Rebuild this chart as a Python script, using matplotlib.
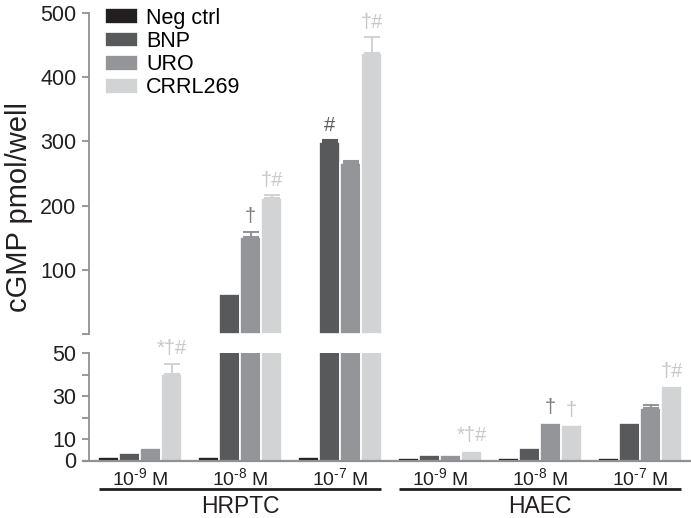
import numpy as np
import matplotlib
matplotlib.use("Agg")
import matplotlib.pyplot as plt
import matplotlib.transforms as mtransforms

plt.rcParams['font.family'] = ['Liberation Sans', 'DejaVu Sans']
plt.rcParams['mathtext.fontset'] = 'custom'
plt.rcParams['mathtext.rm'] = 'Liberation Sans'

# data
groups = [r"10$^{\text{-9}}$ M", r"10$^{\text{-8}}$ M", r"10$^{\text{-7}}$ M",
          r"10$^{\text{-9}}$ M", r"10$^{\text{-8}}$ M", r"10$^{\text{-7}}$ M"]
cells = ["HRPTC", "HAEC"]
series = ["Neg ctrl", "BNP", "URO", "CRRL269"]
neg_ctrl = [1.5, 1.5, 1.5, 1.2, 1.2, 1.2]
bnp = [3.5, 63, 299, 2.6, 5.8, 17.6]
uro = [5.7, 151, 266, 2.5, 17.6, 24.7]
crrl269 = [40.5, 212, 438, 4.6, 16.5, 34.7]
neg_err = [0, 0, 0, 0, 0, 0]
bnp_err = [0, 0, 3, 0, 0, 0]
uro_err = [0, 8, 3.5, 0, 0, 1.1]
crrl_err = [4.7, 4, 24, 0, 0, 0]
# significance marks: (group, series index, text)
marks = [(0, 3, "*†#"), (1, 2, "†"), (1, 3, "†#"), (2, 1, "#"), (2, 3, "†#"),
         (3, 3, "*†#"), (4, 2, "†"), (4, 3, "†"), (5, 3, "†#")]

colors = ["#231f20", "#58595b", "#939598", "#d1d3d4"]
mark_colors = ["#231f20", "#58595b", "#7d7f82", "#c7c8ca"]
spine_col = "#8f9194"
brk = 50

values = [neg_ctrl, bnp, uro, crrl269]
errors = [neg_err, bnp_err, uro_err, crrl_err]

fig = plt.figure(figsize=(6.91, 5.18), dpi=100)
ax_top = fig.add_axes([89 / 691, 184 / 518, 602 / 691, 321 / 518])
ax_bot = fig.add_axes([89 / 691, 57.5 / 518, 602 / 691, 107.2 / 518])

x = np.arange(len(groups))
w = 0.21
offs = [-1.5 * w, -0.5 * w, 0.5 * w, 1.5 * w]

handles = []
for k in range(4):
    v = np.array(values[k])
    e = np.array(errors[k])
    xs = x + offs[k]
    # lower panel: everything, clipped at the break
    h = ax_bot.bar(xs, v, w, color=colors[k], edgecolor="white", linewidth=1.2,
                   label=series[k])
    handles.append(h)
    sel = (e > 0) & (v + e <= brk)
    if sel.any():
        ax_bot.errorbar(xs[sel], v[sel], yerr=[np.zeros(sel.sum()), e[sel]],
                        fmt="none", ecolor=colors[k], elinewidth=1.5,
                        capsize=6, capthick=1.5)
    # upper panel: only bars that go past the break
    big = v > brk
    if big.any():
        ax_top.bar(xs[big], v[big], w, color=colors[k], edgecolor="white",
                   linewidth=1.2)
    sel = big & (e > 0)
    if sel.any():
        ax_top.errorbar(xs[sel], v[sel], yerr=[np.zeros(sel.sum()), e[sel]],
                        fmt="none", ecolor=colors[k], elinewidth=1.5,
                        capsize=6, capthick=1.5)

for g, k, txt in marks:
    top = values[k][g] + errors[k][g]
    ax = ax_top if values[k][g] > brk else ax_bot
    ax.annotate(txt, (x[g] + offs[k], top), xytext=(0, 4), textcoords="offset points",
                ha="center", va="bottom", fontsize=14.5, color=mark_colors[k])

xl = (-0.51, 5.51)
for ax in (ax_top, ax_bot):
    ax.set_xlim(xl)
    for s in ("top", "right"):
        ax.spines[s].set_visible(False)
    ax.spines["left"].set_color(spine_col)
    ax.spines["left"].set_linewidth(1.3)
    ax.tick_params(axis="y", direction="out", length=5, width=1.3,
                   color=spine_col, labelsize=15.5, labelcolor="#231f20", pad=4)

ax_top.set_ylim(0, 500)
ax_top.set_yticks([0, 100, 200, 300, 400, 500])
ax_top.set_yticklabels(["", "100", "200", "300", "400", "500"])
ax_top.spines["bottom"].set_visible(False)
ax_top.set_xticks([])

ax_bot.set_ylim(0, 50)
ax_bot.set_yticks([0, 10, 20, 30, 40, 50])
ax_bot.set_yticklabels(["0", "10", "", "30", "", "50"])
ax_bot.spines["bottom"].set_color(spine_col)
ax_bot.spines["bottom"].set_linewidth(1.6)
ax_bot.spines["bottom"].set_bounds(xl[0] - 0.06, xl[1])
ax_bot.set_xticks(x)
ax_bot.set_xticklabels(groups)
ax_bot.tick_params(axis="x", length=0, labelsize=14, pad=5, labelcolor="#231f20")

# cell-type brackets under the groups
tr = mtransforms.blended_transform_factory(ax_bot.transData, ax_bot.transAxes)
for i, name in enumerate(cells):
    lo, hi = x[3 * i] - 0.41, x[3 * i + 2] + 0.41
    ax_bot.plot([lo, hi], [-0.27, -0.27], color="#231f20", lw=2, transform=tr,
                clip_on=False, solid_capstyle="butt")
    ax_bot.text(x[3 * i + 1], -0.43, name, transform=tr, ha="center", va="center",
                fontsize=16.5, color="#231f20")

ax_top.legend(handles=handles, labels=series, loc="upper left",
              bbox_to_anchor=(0.027, 1.016), frameon=False,
              fontsize=15.5, handlelength=1.5, handleheight=0.75,
              handletextpad=0.4, labelspacing=0.1, borderpad=0, borderaxespad=0)

fig.text(0.028, 0.6, "cGMP pmol/well", rotation=90, ha="center", va="center",
         fontsize=21, color="#231f20")

fig.savefig("out.png", dpi=100)
